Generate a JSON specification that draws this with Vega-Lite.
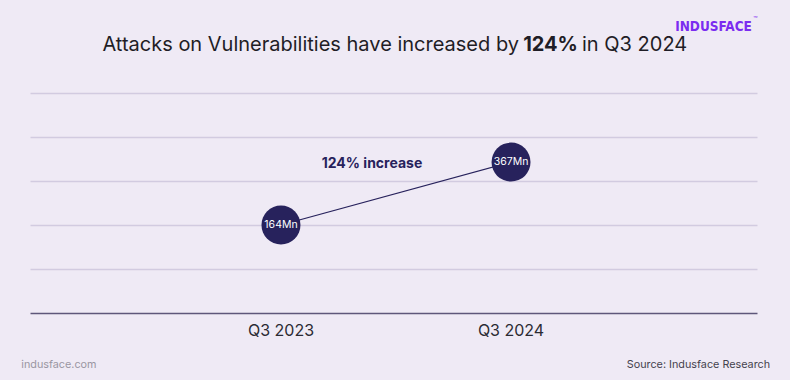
{
  "$schema": "https://vega.github.io/schema/vega-lite/v6.json",
  "autosize": {"type": "none"},
  "width": 727,
  "height": 220,
  "padding": {"left": 30, "top": 93, "right": 33, "bottom": 67},
  "background": "#efeaf5",
  "config": {"view": {"stroke": null}, "font": "Inter"},
  "layer": [
    {
      "data": {"values": [
        {"quarter": "Q3 2023", "attacks": 164, "label": "164Mn"},
        {"quarter": "Q3 2024", "attacks": 367, "label": "367Mn"}
      ]},
      "encoding": {
        "x": {"field": "quarter", "type": "ordinal", "title": null,
              "scale": {"type": "band", "paddingInner": 0.2, "paddingOuter": 0.68, "align": 0.508},
              "axis": {"labelAngle": 0, "labelFontSize": 16, "labelColor": "#2b2b33", "labelPadding": 9,
                       "ticks": false, "domainColor": "#5e577a", "domainWidth": 1.5, "grid": false, "labelFont": "Inter"}},
        "y": {"field": "attacks", "type": "quantitative", "title": null,
              "scale": {"domain": [-120, 590], "nice": false, "zero": false},
              "axis": {"values": [22, 164, 306, 448, 590], "labels": false, "ticks": false, "domain": false,
                       "grid": true, "gridColor": "#d2cbe0", "gridWidth": 1.3}}
      },
      "layer": [
        {"mark": {"type": "line", "color": "#27225c", "strokeWidth": 1.2}},
        {"mark": {"type": "circle", "color": "#27225c", "opacity": 1, "size": 1520}},
        {"mark": {"type": "text", "color": "#ffffff", "fontSize": 10.5, "font": "Inter"},
         "encoding": {"text": {"field": "label"}}}
      ]
    },
    {
      "data": {"values": [{"note": "124% increase"}]},
      "mark": {"type": "text", "fontSize": 14, "fontWeight": "bold", "color": "#27225c", "baseline": "middle", "align": "center"},
      "encoding": {"text": {"field": "note"},
                   "x": {"datum": 47.04, "type": "quantitative", "scale": {"domain": [0, 100], "nice": false, "zero": false}, "axis": null},
                   "y": {"datum": 67.7, "type": "quantitative", "scale": {"domain": [0, 100], "nice": false, "zero": false}, "axis": null}}
    },
    {
      "data": {"values": [{"t": "Attacks on Vulnerabilities have increased by"}]},
      "mark": {"type": "text", "fontSize": 20, "color": "#1f1d26", "baseline": "middle", "align": "right"},
      "encoding": {"text": {"field": "t"},
                   "x": {"datum": 67.26, "type": "quantitative", "scale": {"domain": [0, 100], "nice": false, "zero": false}, "axis": null},
                   "y": {"datum": 121.8, "type": "quantitative", "scale": {"domain": [0, 100], "nice": false, "zero": false}, "axis": null}}
    },
    {
      "data": {"values": [{"t": "124%"}]},
      "mark": {"type": "text", "fontSize": 20, "fontWeight": "bold", "color": "#1f1d26", "baseline": "middle", "align": "center"},
      "encoding": {"text": {"field": "t"},
                   "x": {"datum": 71.6, "type": "quantitative", "scale": {"domain": [0, 100], "nice": false, "zero": false}, "axis": null},
                   "y": {"datum": 121.8, "type": "quantitative", "scale": {"domain": [0, 100], "nice": false, "zero": false}, "axis": null}}
    },
    {
      "data": {"values": [{"t": "in Q3 2024"}]},
      "mark": {"type": "text", "fontSize": 20, "color": "#1f1d26", "baseline": "middle", "align": "left"},
      "encoding": {"text": {"field": "t"},
                   "x": {"datum": 75.93, "type": "quantitative", "scale": {"domain": [0, 100], "nice": false, "zero": false}, "axis": null},
                   "y": {"datum": 121.8, "type": "quantitative", "scale": {"domain": [0, 100], "nice": false, "zero": false}, "axis": null}}
    },
    {
      "data": {"values": [{"t": "INDUSFACE"}]},
      "mark": {"type": "text", "fontSize": 13.5, "fontWeight": "bold", "font": "DejaVu Sans Condensed", "color": "#7b2cf0", "baseline": "middle", "align": "right"},
      "encoding": {"text": {"field": "t"},
                   "x": {"datum": 99.3, "type": "quantitative", "scale": {"domain": [0, 100], "nice": false, "zero": false}, "axis": null},
                   "y": {"datum": 130, "type": "quantitative", "scale": {"domain": [0, 100], "nice": false, "zero": false}, "axis": null}}
    },
    {
      "data": {"values": [{"t": "™"}]},
      "mark": {"type": "text", "fontSize": 7, "color": "#7b2cf0", "baseline": "middle", "align": "left"},
      "encoding": {"text": {"field": "t"},
                   "x": {"datum": 99.5, "type": "quantitative", "scale": {"domain": [0, 100], "nice": false, "zero": false}, "axis": null},
                   "y": {"datum": 133.4, "type": "quantitative", "scale": {"domain": [0, 100], "nice": false, "zero": false}, "axis": null}}
    },
    {
      "data": {"values": [{"t": "indusface.com"}]},
      "mark": {"type": "text", "fontSize": 10.8, "color": "#9a96a2", "baseline": "middle", "align": "left"},
      "encoding": {"text": {"field": "t"},
                   "x": {"datum": -1.2, "type": "quantitative", "scale": {"domain": [0, 100], "nice": false, "zero": false}, "axis": null},
                   "y": {"datum": -23.6, "type": "quantitative", "scale": {"domain": [0, 100], "nice": false, "zero": false}, "axis": null}}
    },
    {
      "data": {"values": [{"t": "Source: Indusface Research"}]},
      "mark": {"type": "text", "fontSize": 10.8, "color": "#45424d", "baseline": "middle", "align": "right"},
      "encoding": {"text": {"field": "t"},
                   "x": {"datum": 101.8, "type": "quantitative", "scale": {"domain": [0, 100], "nice": false, "zero": false}, "axis": null},
                   "y": {"datum": -23.6, "type": "quantitative", "scale": {"domain": [0, 100], "nice": false, "zero": false}, "axis": null}}
    }
  ],
  "resolve": {"scale": {"x": "independent", "y": "independent"}}
}
